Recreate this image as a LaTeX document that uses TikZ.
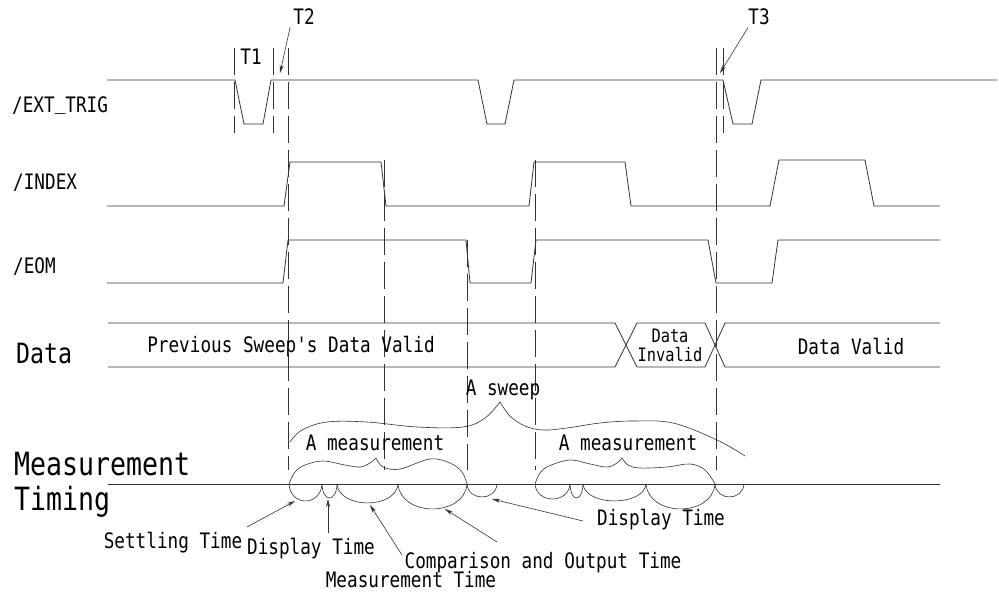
\documentclass[tikz,border=0pt]{standalone}
\usepackage{fontspec}
\newfontfamily\gf[FakeStretch=0.83]{DejaVu Sans Mono}
\usetikzlibrary{arrows.meta}
\begin{document}
\begin{tikzpicture}[x=1pt,y=-1pt,
  sig/.style={draw=black!80,line width=0.8pt},
  guide/.style={draw=black!80,line width=0.7pt,dash pattern=on 27pt off 7pt},
  curly/.style={draw=black!80,line width=0.6pt},
  ptr/.style={draw=black!80,line width=0.6pt,-{Stealth[length=8pt,width=4pt]}},
  txt/.style={font={\gf\fontsize{21.3}{21}\selectfont},inner sep=0pt,text=black},
  smalltxt/.style={font={\gf\fontsize{18.5}{20}\selectfont},inner sep=0pt,align=center,text=black},
  bigtxt/.style={font={\gf\fontsize{28}{28}\selectfont},inner sep=0pt,anchor=west,text=black},
  hugetxt/.style={font={\gf\fontsize{32}{32}\selectfont},inner sep=0pt,anchor=west,text=black}]
\useasboundingbox (0,0) rectangle (999,596);
\fill[white] (0,0) rectangle (999,596);

% left labels
\node[txt,anchor=west] (lext) at (12,106) {/EXT\raisebox{3pt}{\_}TRIG};
\node[txt,anchor=west] (lidx) at (13,183) {/INDEX};
\node[txt,anchor=west] (leom) at (13,267) {/EOM};
\node[bigtxt] (ldata) at (16,353) {Data};
\node[hugetxt] (lmeas) at (14,464) {Measurement};
\node[hugetxt] (ltim) at (14,502) {Timing};

% /EXT_TRIG
\draw[sig] (107,80) -- (235,80) -- (244,124) -- (263,124) -- (271,80) -- (478,80)
  -- (487,124) -- (505,124) -- (514,80) -- (723,80) -- (733,124) -- (752,124) -- (761,80) -- (997,80);
% /INDEX
\draw[sig] (107,206) -- (284,206) -- (290,162) -- (381,162) -- (386,206) -- (529,206)
  -- (534,162) -- (625,162) -- (631,206) -- (770,206) -- (779,160) -- (865,160) -- (874,206) -- (940,206);
% /EOM
\draw[sig] (107,283) -- (283,283) -- (288,240) -- (466,240) -- (470,283) -- (531,283)
  -- (536,240) -- (708,240) -- (716,283) -- (772,283) -- (778,240) -- (940,240);
% Data bus
\draw[sig] (108,323) -- (615,323) -- (637,367) -- (705,367) -- (725,323) -- (940,323);
\draw[sig] (108,367) -- (615,367) -- (637,323) -- (705,323) -- (725,367) -- (940,367);
% baseline
\draw[sig] (108,484) -- (940,484);

% guide lines
\draw[guide] (234,48) -- (234,133);
\draw[guide] (273,48) -- (273,133);
\draw[guide] (288,48) -- (288,470);
\draw[guide] (384,160) -- (384,470);
\draw[guide] (467,240) -- (467,470);
\draw[guide] (535,160) -- (535,470);
\draw[guide] (716,48) -- (716,470);
\draw[guide] (723,48) -- (723,133);

% T labels
\node[txt] (t1) at (251,57) {T1};
\node[txt] (t2) at (304,17) {T2};
\node[txt] (t3) at (759,17) {T3};
\coordinate (t2tip) at (280,73);
\coordinate (t3tip) at (720,73);
\draw[ptr] (t2.south west) ++(-3,2) -- (t2tip);
\draw[ptr] (t3.south west) ++(0,2) -- (t3tip);

% data texts
\node[txt] (dprev) at (291,347) {Previous Sweep's Data Valid};
\node[smalltxt] (dinv) at (670,345) {Data\\[-1pt]Invalid};
\node[txt] (dvalid) at (851,347) {Data Valid};

% sweep brace
\node[txt] (sweep) at (503,390) {A sweep};
\draw[curly] plot[smooth,tension=0.6] coordinates {(290,442) (302,430) (327,422) (367,422) (417,427) (463,427) (485,418) (500,402)};
\draw[curly] plot[smooth,tension=0.6] coordinates {(500,402) (510,416) (525,426) (543,430) (567,428) (600,423) (633,421) (673,423) (717,440) (745,456)};

% measurement braces
\node[txt] (meas1) at (375,443) {A measurement};
\node[txt] (meas2) at (628,443) {A measurement};
\draw[curly] plot[smooth,tension=0.6] coordinates {(289,484) (295,472) (305,465) (323,461) (345,465) (360,467) (370,463) (376,458)};
\draw[curly] plot[smooth,tension=0.6] coordinates {(376,458) (383,467) (400,469) (430,459) (450,463) (462,472) (467,484)};
\draw[curly] plot[smooth,tension=0.6] coordinates {(535,484) (540,473) (549,466) (570,460) (590,464) (607,467) (617,463) (622,458)};
\draw[curly] plot[smooth,tension=0.6] coordinates {(622,458) (628,465) (640,468) (667,467) (690,464) (705,470) (715,484)};

% lobes below baseline
\foreach \a/\b/\d in {289/322/17, 322/337/14, 337/398/19, 398/467/25, 467/497/13,
                      535/570/15, 570/583/14, 583/646/17, 646/715/25, 715/744/13}
  \draw[curly] (\a,484) .. controls ({\a+0.04*(\b-\a)},{484+\d*1.33}) and ({\b-0.04*(\b-\a)},{484+\d*1.33}) .. (\b,484);

% bottom labels and pointers
\node[txt] (settle) at (173,543) {Settling Time};
\node[txt] (disp1) at (311,549) {Display Time};
\node[txt] (mtime) at (411,580) {Measurement Time};
\node[txt] (comp) at (543,563) {Comparison and Output Time};
\node[txt] (disp2) at (661,520) {Display Time};
\coordinate (settletip) at (295,501);
\coordinate (disp1tip) at (328,499);
\coordinate (mtimetip) at (370,505);
\coordinate (comptip) at (445,509);
\coordinate (disp2tip) at (492,499);
\draw[ptr] (247,527) -- (settletip);
\draw[ptr] (328,533) -- (disp1tip);
\draw[ptr] (402,555) -- (mtimetip);
\draw[ptr] (497,542) -- (comptip);
\draw[ptr] (583,521) -- (disp2tip);
\end{tikzpicture}
\end{document}
